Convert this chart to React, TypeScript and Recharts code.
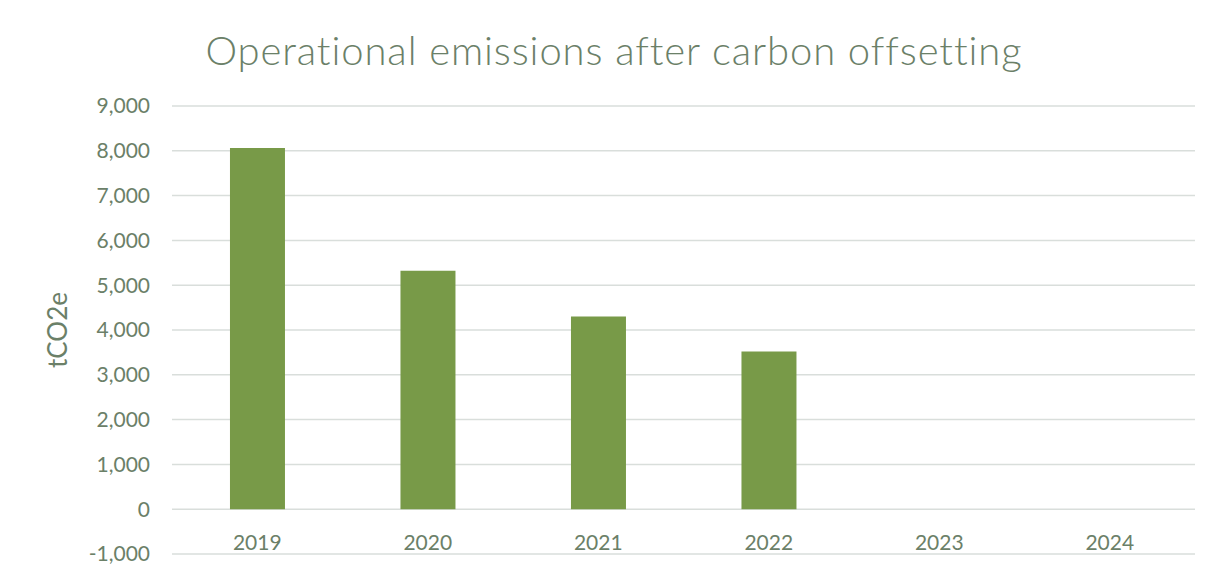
import { BarChart, Bar, XAxis, YAxis, CartesianGrid } from "recharts"

const years = ["2019", "2020", "2021", "2022", "2023", "2024"]
const emissions = [8060, 5325, 4300, 3520, 0, 0]
const yTicks = [-1000, 0, 1000, 2000, 3000, 4000, 5000, 6000, 7000, 8000, 9000]

const textColor = "#6b8068"
const font = "Lato, 'Open Sans', sans-serif"

const data = years.map((year, i) => ({ year, value: emissions[i] }))

function YearTick(props: any) {
  const { x, y, payload } = props
  // Excel-style: category labels sit just under the zero line
  return (
    <text x={x} y={y - 17} textAnchor="middle" dominantBaseline="middle"
      fill={textColor} fontSize={21} fontFamily={font}>
      {payload.value}
    </text>
  )
}

function UnitLabel(props: any) {
  const { viewBox } = props
  const cy = viewBox.y + viewBox.height / 2
  return (
    <text x={52} y={cy} transform={`rotate(-90 52 ${cy})`} textAnchor="middle"
      dominantBaseline="middle" fill={textColor} fontSize={26} fontFamily={font}>
      tCO2e
    </text>
  )
}

export default function App() {
  return (
    <div style={{
      position: "relative", width: 1212, height: 572, margin: -1,
      borderTop: "1px solid #d9d9d9", borderLeft: "1px solid #d9d9d9",
      background: "#fff", fontFamily: font
    }}>
      <div style={{
        position: "absolute", left: 0, right: 0, top: 18, textAlign: "center",
        color: textColor, fontSize: 40, fontWeight: 300, letterSpacing: 0.9
      }}>
        Operational emissions after carbon offsetting
      </div>
      <BarChart width={1212} height={572} data={data}
        margin={{ top: 98, right: 25, left: 0, bottom: 0 }}
        barCategoryGap="34%">
        <CartesianGrid vertical={false} stroke="#d9dedb" strokeWidth={1.5} />
        <XAxis dataKey="year" axisLine={false} tickLine={false} height={26}
          tick={<YearTick />} interval={0} />
        <YAxis width={164} domain={[-1000, 9000]} ticks={yTicks} interval={0}
          axisLine={false} tickLine={false} tickMargin={16}
          tickFormatter={(v: number) => v.toLocaleString("en-US")}
          tick={{ fill: textColor, fontSize: 21, fontFamily: font }}
          label={<UnitLabel />} />
        <Bar dataKey="value" fill="#789a48" isAnimationActive={false} />
      </BarChart>
    </div>
  )
}
